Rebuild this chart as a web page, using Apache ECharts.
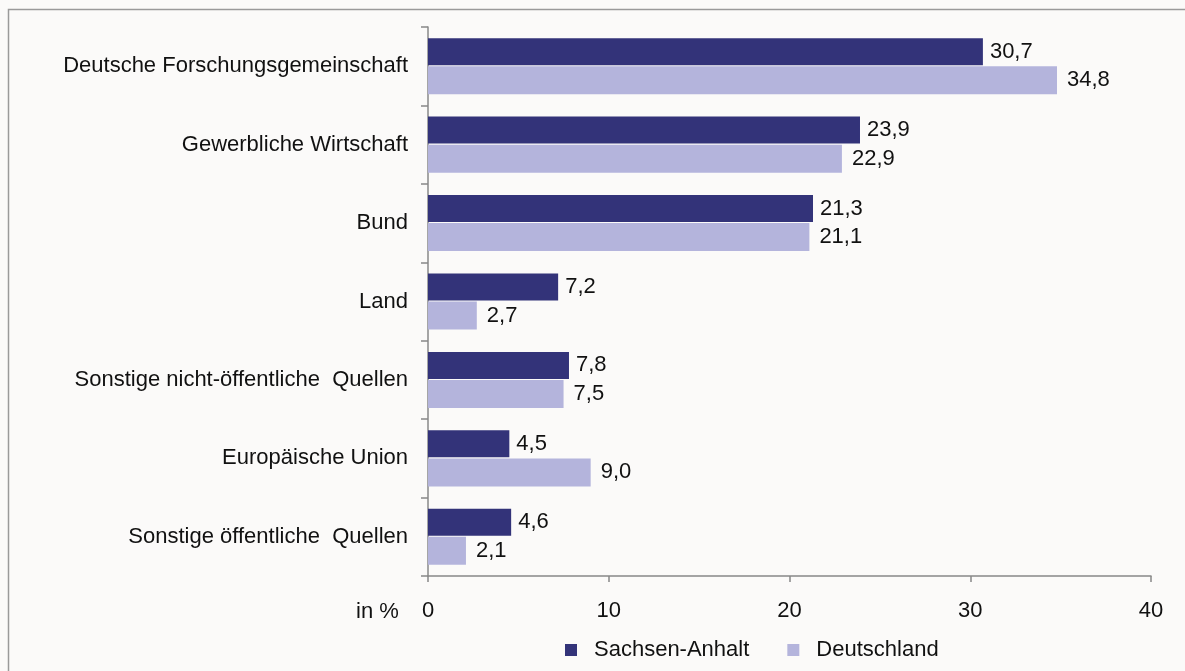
<!DOCTYPE html>
<html>
<head>
<meta charset="utf-8">
<script src="https://cdn.jsdelivr.net/npm/echarts@6/dist/echarts.min.js"></script>
<style>
  html, body { margin: 0; padding: 0; background: #fbfaf9; }
  #chart { width: 1185px; height: 671px; }
</style>
</head>
<body>
<div id="chart"></div>
<script>
// Daten
const kategorien = [
    "Deutsche Forschungsgemeinschaft",
    "Gewerbliche Wirtschaft",
    "Bund",
    "Land",
    "Sonstige nicht-öffentliche  Quellen",
    "Europäische Union",
    "Sonstige öffentliche  Quellen"
];
const sachsenAnhalt = [30.7, 23.9, 21.3, 7.2, 7.8, 4.5, 4.6];
const deutschland = [34.8, 22.9, 21.1, 2.7, 7.5, 9.0, 2.1];
const achsenTicks = [0, 10, 20, 30, 40];

const schrift = "Liberation Sans, Arial, sans-serif";
const groesse = 22;
const fmt = (p) => p.value.toFixed(1).replace(".", ",");

const getOption = () => ({
    backgroundColor: "#fbfaf9",
    textStyle: { fontFamily: schrift },
    graphic: [
        {
            type: "rect",
            shape: { x: 8.5, y: 9.5, width: 1200, height: 700 },
            style: { fill: "none", stroke: "#9a9a9a", lineWidth: 1.5 },
            silent: true
        },
        {
            type: "text",
            left: 356,
            top: 601,
            style: { text: "in %", fontSize: groesse, fill: "#111", fontFamily: schrift }
        }
    ],
    legend: {
        top: 634,
        left: 560,
        itemWidth: 12,
        itemHeight: 12,
        itemGap: 38,
        icon: "rect",
        textStyle: { fontSize: groesse, color: "#111", fontFamily: schrift, padding: [0, 0, 0, 12] },
        data: ["Sachsen-Anhalt", "Deutschland"]
    },
    grid: {
        left: 428,
        right: 34,
        top: 27,
        bottom: 95,
        containLabel: false
    },
    xAxis: {
        type: "value",
        min: achsenTicks[0],
        max: achsenTicks[achsenTicks.length - 1],
        interval: 10,
        splitLine: { show: false },
        axisLine: { show: true, lineStyle: { color: "#888", width: 1.5 } },
        axisTick: { show: true, length: 6, inside: false, lineStyle: { color: "#888", width: 1.5 } },
        axisLabel: { fontSize: groesse, color: "#111", margin: 24, fontFamily: schrift }
    },
    yAxis: {
        type: "category",
        inverse: true,
        data: kategorien,
        axisLine: { show: true, lineStyle: { color: "#888", width: 1.5 } },
        axisTick: { show: true, length: 7, lineStyle: { color: "#888", width: 1.5 } },
        axisLabel: { fontSize: groesse, color: "#111", margin: 20, fontFamily: schrift }
    },
    series: [
        {
            name: "Sachsen-Anhalt",
            type: "bar",
            data: sachsenAnhalt,
            barWidth: 27,
            barGap: "4%",
            itemStyle: { color: "#333379" },
            label: { show: true, position: "right", distance: 7, fontSize: groesse, color: "#111", formatter: fmt, fontFamily: schrift }
        },
        {
            name: "Deutschland",
            type: "bar",
            data: deutschland,
            barWidth: 28,
            itemStyle: { color: "#b4b4dc" },
            label: { show: true, position: "right", distance: 10, fontSize: groesse, color: "#111", formatter: fmt, fontFamily: schrift }
        }
    ]
});

document.addEventListener("DOMContentLoaded", function() {
    const chart = echarts.init(document.getElementById("chart"));
    chart.setOption(getOption());
});
</script>
</body>
</html>
